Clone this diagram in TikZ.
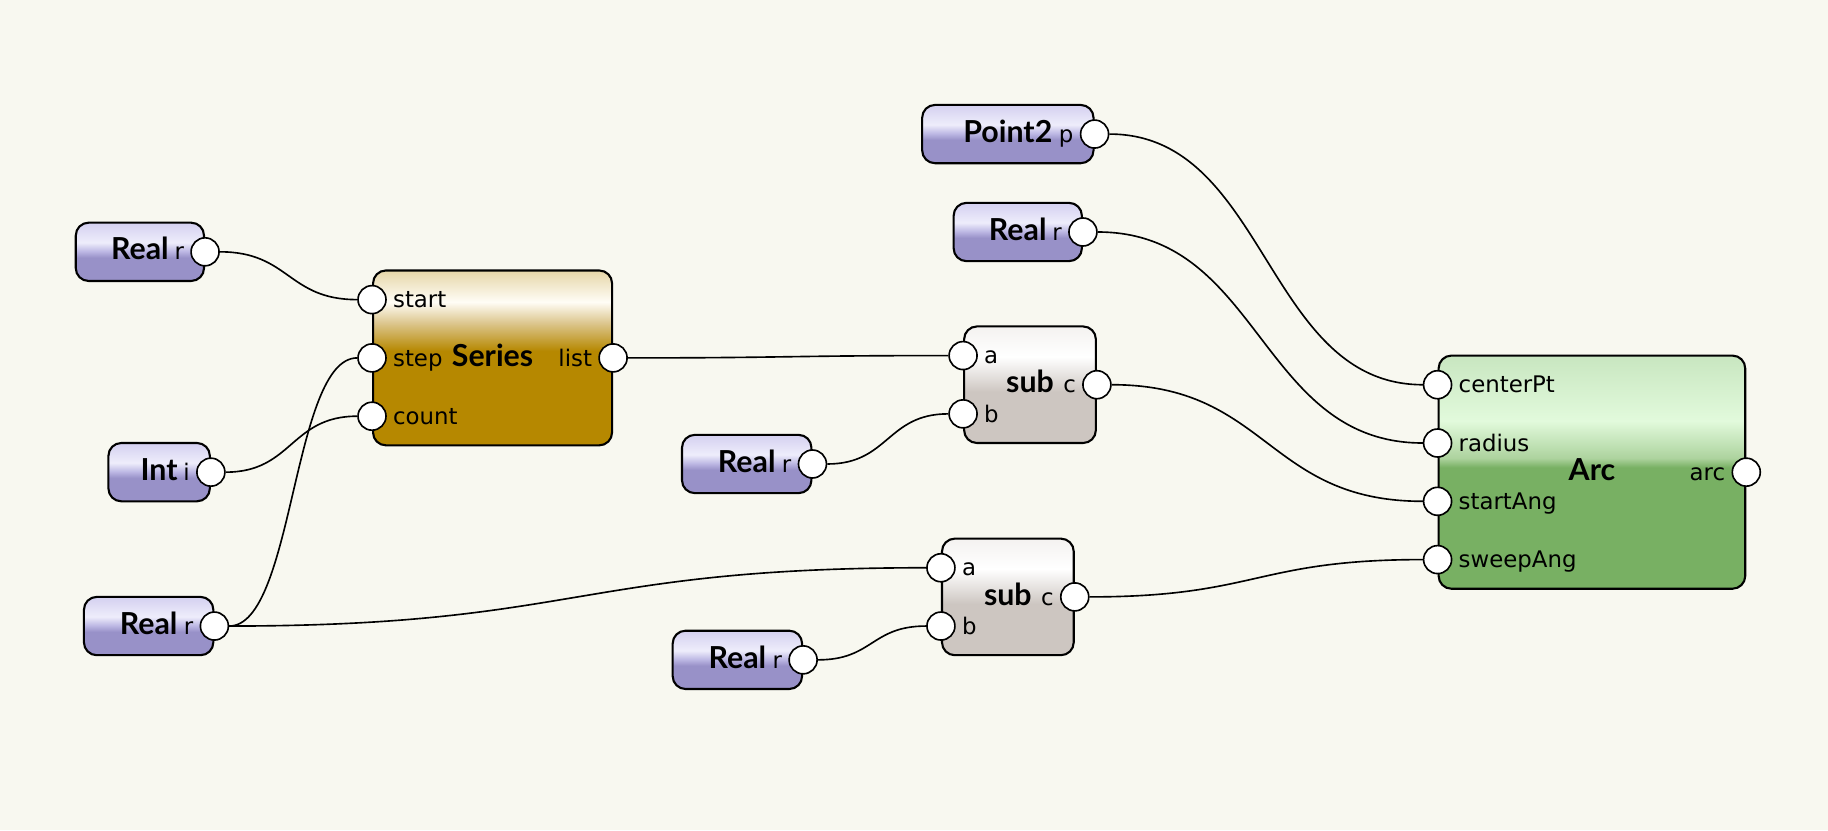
\documentclass[tikz,border=0pt]{standalone}
\usepackage{fontspec}
\setmainfont{DejaVu Sans}
\newfontfamily\titlefont{Lato}
\usepackage{tikz}
\usetikzlibrary{positioning}
\tikzset{>=stealth}

\definecolor{bgcol}{HTML}{F8F8F0}
\definecolor{purpB}{HTML}{9891C8}
\definecolor{purpM}{HTML}{BDB8E4}
\definecolor{purpW}{HTML}{EEEDFB}
\definecolor{purpT}{HTML}{D4D0F0}
\definecolor{goldB}{HTML}{B68800}
\definecolor{goldM}{HTML}{DCC68E}
\definecolor{goldW}{HTML}{FFFDF6}
\definecolor{goldT}{HTML}{E6D6A8}
\definecolor{subB}{HTML}{CDC6C1}
\definecolor{subM}{HTML}{E2DEDB}
\definecolor{subW}{HTML}{FFFFFF}
\definecolor{subT}{HTML}{F4F2F0}
\definecolor{arcB}{HTML}{78B063}
\definecolor{arcM}{HTML}{ADD39E}
\definecolor{arcW}{HTML}{E2FADC}
\definecolor{arcT}{HTML}{C8E6C0}

\pgfdeclareverticalshading{purpgloss}{100bp}{color(0bp)=(purpB); color(45bp)=(purpB); color(50.5bp)=(purpM); color(58bp)=(purpW); color(75bp)=(purpT); color(100bp)=(purpT)}
\pgfdeclareverticalshading{goldgloss}{100bp}{color(0bp)=(goldB); color(52bp)=(goldB); color(60bp)=(goldM); color(66bp)=(goldW); color(75bp)=(goldT); color(100bp)=(goldT)}
\pgfdeclareverticalshading{subgloss}{100bp}{color(0bp)=(subB); color(47bp)=(subB); color(53bp)=(subM); color(62bp)=(subW); color(75bp)=(subT); color(100bp)=(subT)}
\pgfdeclareverticalshading{arcgloss}{100bp}{color(0bp)=(arcB); color(51bp)=(arcB); color(53bp)=(arcM); color(61bp)=(arcW); color(75bp)=(arcT); color(100bp)=(arcT)}

\tikzset{
  nodebox/.style={draw, line width=0.9pt, rounded corners=5.5pt, inner sep=0pt,
    text height=7pt, text depth=0pt, font=\titlefont\bfseries\fontsize{13}{13}\selectfont},
  realbox/.style={nodebox, shading=purpgloss, minimum height=25pt},
  seriesbox/.style={nodebox, shading=goldgloss, minimum height=75pt},
  subbox/.style={nodebox, shading=subgloss, minimum height=50pt},
  arcbox/.style={nodebox, shading=arcgloss, minimum height=100pt},
  port/.style={circle, draw, fill=white, line width=0.7pt, minimum size=12pt, inner sep=0pt},
  plabel/.style={inner sep=0pt, text height=7pt, text depth=0pt, font=\fontsize{9.8}{10}\selectfont},
  wire/.style={line width=0.7pt}
}

\begin{document}
\begin{tikzpicture}[x=0.5pt, y=-0.5pt]
    \fill[bgcol] (0,0) rectangle (1568,712);
    \useasboundingbox (0,0) rectangle (1568,712);

    % value nodes
    \node[realbox, minimum width=55pt] (realstart) at (120,216) {Real};
    \node[realbox, minimum width=43.5pt] (intcount) at (136.5,405) {Int};
    \node[realbox, minimum width=55.5pt] (realstep) at (127.5,537) {Real};
    \node[realbox, minimum width=73.5pt] (point) at (864.5,115) {Point2};
    \node[realbox, minimum width=55pt] (realradius) at (873,199) {Real};
    \node[realbox, minimum width=55.5pt] (realbone) at (640.5,398) {Real};
    \node[realbox, minimum width=55.5pt] (realbtwo) at (632.5,566) {Real};

    % operator nodes
    \node[seriesbox, minimum width=102.5pt] (series) at (422.5,307) {Series};
    \node[subbox, minimum width=56.5pt] (subone) at (883.5,330) {sub};
    \node[subbox, minimum width=56.5pt] (subtwo) at (864.5,512) {sub};
    \node[arcbox, minimum width=131.5pt] (arc) at (1365.5,405) {Arc};

    % ports
    \node[port] (realstart-r) at (realstart.east) {};
    \node[port] (intcount-i) at (intcount.east) {};
    \node[port] (realstep-r) at (realstep.east) {};
    \node[port] (point-p) at (point.east) {};
    \node[port] (realradius-r) at (realradius.east) {};
    \node[port] (realbone-r) at (realbone.east) {};
    \node[port] (realbtwo-r) at (realbtwo.east) {};
    \node[port] (series-start) at ([yshift=25pt]series.west) {};
    \node[port] (series-step) at (series.west) {};
    \node[port] (series-count) at ([yshift=-25pt]series.west) {};
    \node[port] (series-list) at (series.east) {};
    \node[port] (subone-a) at ([yshift=12.5pt]subone.west) {};
    \node[port] (subone-b) at ([yshift=-12.5pt]subone.west) {};
    \node[port] (subone-c) at (subone.east) {};
    \node[port] (subtwo-a) at ([yshift=12.5pt]subtwo.west) {};
    \node[port] (subtwo-b) at ([yshift=-12.5pt]subtwo.west) {};
    \node[port] (subtwo-c) at (subtwo.east) {};
    \node[port] (arc-center) at ([yshift=37.5pt]arc.west) {};
    \node[port] (arc-radius) at ([yshift=12.5pt]arc.west) {};
    \node[port] (arc-start) at ([yshift=-12.5pt]arc.west) {};
    \node[port] (arc-sweep) at ([yshift=-37.5pt]arc.west) {};
    \node[port] (arc-out) at (arc.east) {};

    % port labels
    \node[plabel, left=2.5pt of realstart-r] (realstart-rt) {r};
    \node[plabel, left=2.5pt of intcount-i] (intcount-it) {i};
    \node[plabel, left=2.5pt of realstep-r] (realstep-rt) {r};
    \node[plabel, left=2.5pt of point-p] (point-pt) {p};
    \node[plabel, left=2.5pt of realradius-r] (realradius-rt) {r};
    \node[plabel, left=2.5pt of realbone-r] (realbone-rt) {r};
    \node[plabel, left=2.5pt of realbtwo-r] (realbtwo-rt) {r};
    \node[plabel, right=2.5pt of series-start] (series-startt) {start};
    \node[plabel, right=2.5pt of series-step] (series-stept) {step};
    \node[plabel, right=2.5pt of series-count] (series-countt) {count};
    \node[plabel, left=2.5pt of series-list] (series-listt) {list};
    \node[plabel, right=2.5pt of subone-a] (subone-at) {a};
    \node[plabel, right=2.5pt of subone-b] (subone-bt) {b};
    \node[plabel, left=2.5pt of subone-c] (subone-ct) {c};
    \node[plabel, right=2.5pt of subtwo-a] (subtwo-at) {a};
    \node[plabel, right=2.5pt of subtwo-b] (subtwo-bt) {b};
    \node[plabel, left=2.5pt of subtwo-c] (subtwo-ct) {c};
    \node[plabel, right=2.5pt of arc-center] (arc-centert) {centerPt};
    \node[plabel, right=2.5pt of arc-radius] (arc-radiust) {radius};
    \node[plabel, right=2.5pt of arc-start] (arc-startt) {startAng};
    \node[plabel, right=2.5pt of arc-sweep] (arc-sweept) {sweepAng};
    \node[plabel, left=2.5pt of arc-out] (arc-outt) {arc};

    % wires
    \draw[wire] (realstart-r) .. controls +(72.5,0) and +(-72.5,0) .. (series-start);
    \draw[wire] (intcount-i) .. controls +(70,0) and +(-70,0) .. (series-count);
    \draw[wire] (realstep-r) .. controls +(68.5,0) and +(-68.5,0) .. (series-step);
    \draw[wire] (realstep-r) .. controls +(312.5,0) and +(-312.5,0) .. (subtwo-a);
    \draw[wire] (series-list) .. controls +(151,0) and +(-151,0) .. (subone-a);
    \draw[wire] (realbone-r) .. controls +(65.5,0) and +(-65.5,0) .. (subone-b);
    \draw[wire] (realbtwo-r) .. controls +(60,0) and +(-60,0) .. (subtwo-b);
    \draw[wire] (point-p) .. controls +(148,0) and +(-148,0) .. (arc-center);
    \draw[wire] (realradius-r) .. controls +(153,0) and +(-153,0) .. (arc-radius);
    \draw[wire] (subone-c) .. controls +(147,0) and +(-147,0) .. (arc-start);
    \draw[wire] (subtwo-c) .. controls +(156.5,0) and +(-156.5,0) .. (arc-sweep);
\end{tikzpicture}
\end{document}
